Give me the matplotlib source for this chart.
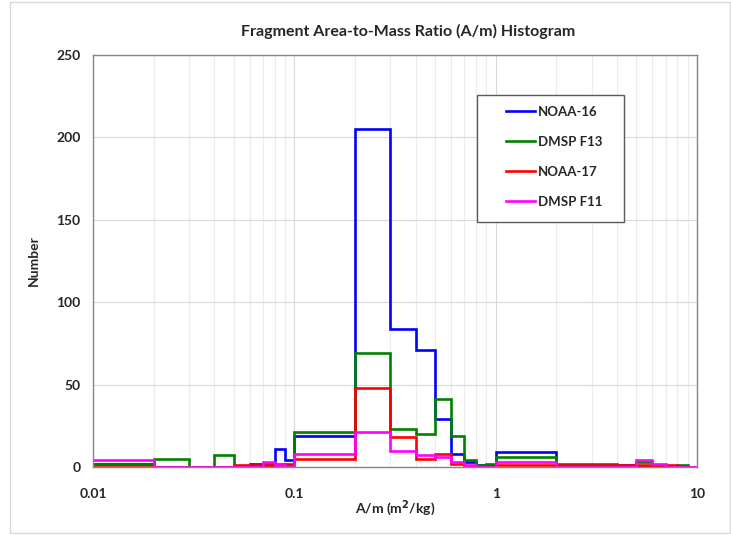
import matplotlib
matplotlib.use("Agg")
import matplotlib.pyplot as plt
import numpy as np
from matplotlib.ticker import FixedLocator, FuncFormatter, NullFormatter

# bin edges: 0.01..0.1 step 0.01, 0.1..1 step 0.1, 1..10 step 1
edges = [0.01, 0.02, 0.03, 0.04, 0.05, 0.06, 0.07, 0.08, 0.09,
         0.1, 0.2, 0.3, 0.4, 0.5, 0.6, 0.7, 0.8, 0.9,
         1, 2, 3, 4, 5, 6, 7, 8, 9, 10]

noaa16 = [2, 0, 0, 0, 0, 2, 2, 11, 4,
          19, 205, 84, 71, 29, 8, 3, 1, 1,
          9, 1, 1, 1, 0, 0, 0, 0, 0]
dmsp_f13 = [2, 5, 0, 7, 0, 0, 0, 1, 2,
            21, 69, 23, 20, 41, 19, 4, 1, 2,
            6, 2, 2, 0, 3, 1, 0, 1, 0]
noaa17 = [0, 0, 0, 0, 1, 1, 1, 2, 1,
          5, 48, 18, 5, 8, 2, 0, 0, 0,
          1, 1, 1, 1, 1, 1, 1, 0, 0]
dmsp_f11 = [4, 0, 0, 0, 0, 0, 3, 1, 0,
            8, 21, 10, 7, 6, 3, 1, 0, 0,
            3, 0, 0, 0, 4, 2, 0, 0, 0]

series = [
    ("NOAA-16", noaa16, "#0000ff"),
    ("DMSP F13", dmsp_f13, "#008000"),
    ("NOAA-17", noaa17, "#ff0000"),
    ("DMSP F11", dmsp_f11, "#ff00ff"),
]

plt.rcParams["font.family"] = ["Lato", "DejaVu Sans"]

W, H = 731, 535
fig = plt.figure(figsize=(W / 100, H / 100), dpi=100)
ax = fig.add_axes([93 / W, 1 - 467 / H, (697 - 93) / W, (467 - 55) / H])

for name, vals, color in series:
    ax.stairs(vals, edges, baseline=None, color=color, linewidth=1.9, label=name)

ax.set_xscale("log")
ax.set_xlim(0.01, 10)
ax.set_ylim(0, 250)
ax.set_yticks(np.arange(0, 251, 50))
ax.xaxis.set_major_locator(FixedLocator([0.01, 0.1, 1, 10]))
ax.xaxis.set_major_formatter(FuncFormatter(lambda v, p: f"{v:g}"))
ax.xaxis.set_minor_formatter(NullFormatter())

ax.grid(True, which="major", color="#d9d9d9", linewidth=0.8)
ax.grid(True, which="minor", axis="x", color="#ececec", linewidth=0.8)
ax.set_axisbelow(True)

for s in ax.spines.values():
    s.set_color("#868686")
    s.set_linewidth(1.0)

ax.tick_params(which="both", length=0, labelsize=10)
ax.tick_params(axis="x", pad=15)
ax.tick_params(axis="y", pad=9)
for lab in ax.get_xticklabels() + ax.get_yticklabels():
    lab.set_fontweight("bold")
    lab.set_color("#262626")

ax.set_xlabel("A/m (m$^{\\mathbf{2}}$/kg)", fontsize=10, fontweight="bold", color="#262626", labelpad=-1)
ax.set_ylabel("Number", fontsize=10, fontweight="bold", color="#262626", labelpad=12)
fig.text(408 / W, 1 - 31 / H, "Fragment Area-to-Mass Ratio (A/m) Histogram",
         ha="center", va="center", fontsize=11.5, fontweight="bold", color="#262626")

# legend: entries without frame, box drawn separately
leg = ax.legend(loc="upper left", bbox_to_anchor=((506 - 93) / 604, (467 - 106) / 412),
                frameon=False, handlelength=2.2, handletextpad=0.2, labelspacing=1.36,
                borderpad=0, borderaxespad=0, prop={"weight": "bold", "size": 9.5})
for h in leg.get_lines():
    h.set_linewidth(1.9)
for t in leg.get_texts():
    t.set_color("#262626")
ax.add_patch(plt.Rectangle(((477 - 93) / 604, (467 - 222) / 412), 147 / 604, 127 / 412,
                           transform=ax.transAxes, fill=True, facecolor="white",
                           edgecolor="#595959", linewidth=1.0, zorder=4))
leg.set_zorder(5)

fig.patches.append(plt.Rectangle((10 / W, 0.003), 1 - 11 / W, 0.994, transform=fig.transFigure,
                                 fill=False, edgecolor="#d9d9d9", linewidth=1.0))

fig.savefig("out.png", dpi=100)
